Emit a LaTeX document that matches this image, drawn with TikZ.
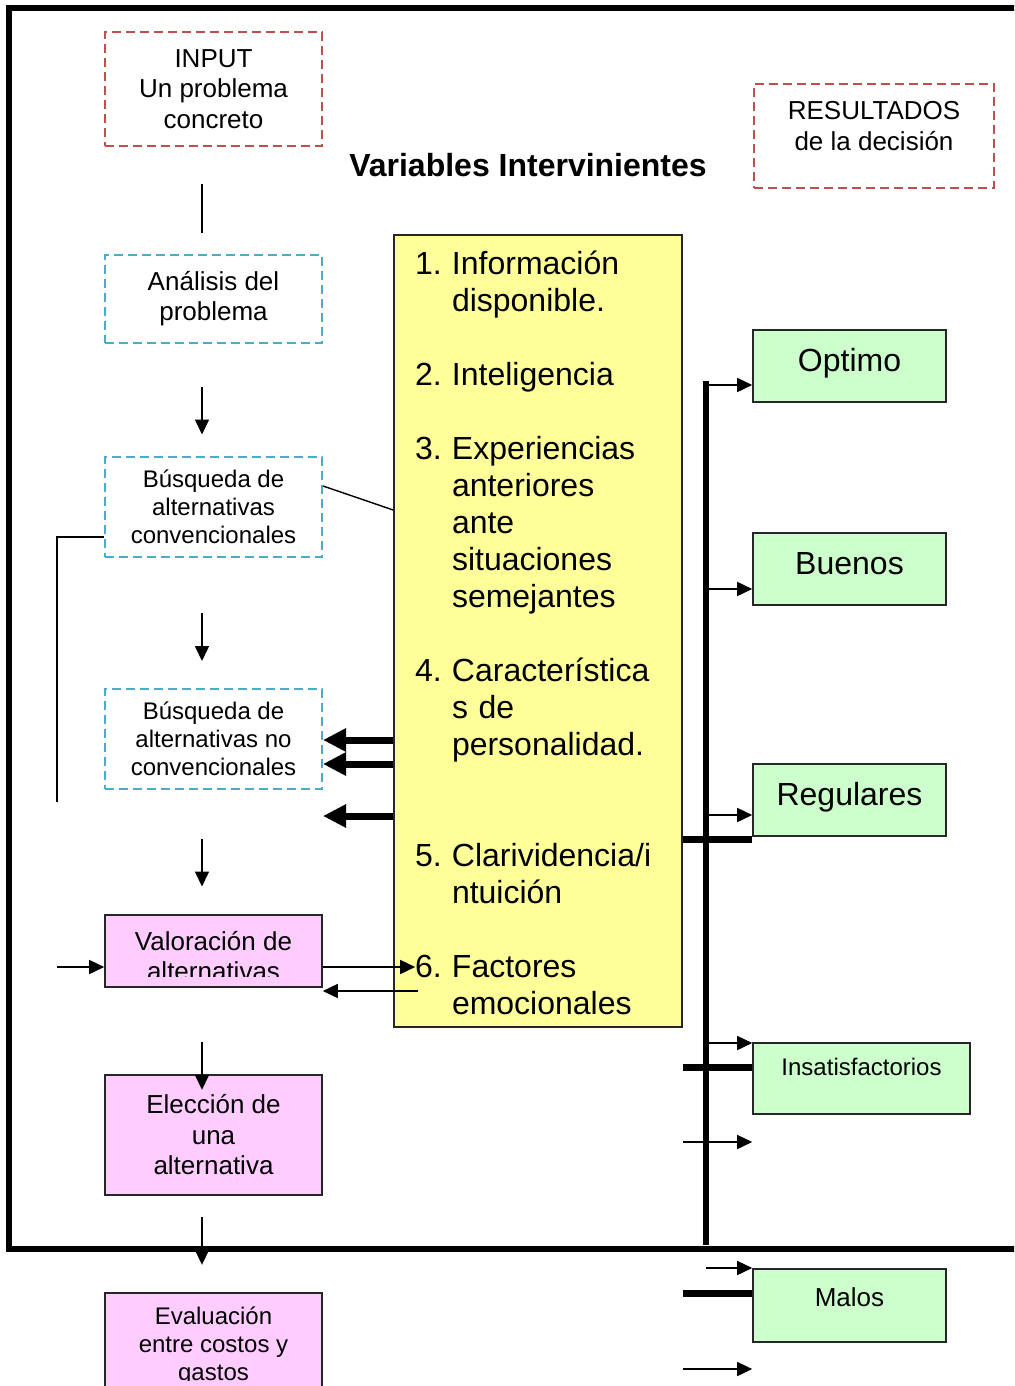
\documentclass[tikz,border=0pt]{standalone}
\usepackage{fontspec}
\setmainfont{Liberation Sans}
\usepackage{tikz}
\usepackage{xcolor}
\usetikzlibrary{arrows.meta,calc}
\definecolor{DashRed}{HTML}{C0504D}
\definecolor{DashCyan}{HTML}{4BACC6}
\definecolor{VarYellow}{HTML}{FFFF99}
\definecolor{ResGreen}{HTML}{CCFFCC}
\definecolor{StepPink}{HTML}{FFCCFF}
\newcommand{\bigtxt}{\fontsize{13}{15.25}\selectfont}
\newcommand{\smalltxt}{\fontsize{12}{13.9}\selectfont}
\newcommand{\listtxt}{\fontsize{16}{18.5}\selectfont}

\begin{document}
\begin{tikzpicture}[x=0.5pt,y=-0.5pt,
  redbox/.style={draw=DashRed,line width=1pt,dash pattern=on 4.5pt off 2.5pt,inner sep=0pt,align=center,font=\bigtxt},
  cyanbox/.style={draw=DashCyan,line width=1pt,dash pattern=on 4.5pt off 2.5pt,minimum width=108.5pt,inner sep=0pt,align=center},
  pinkbox/.style={draw=black!85,fill=StepPink,line width=0.8pt,minimum width=108.5pt,inner sep=0pt,align=center},
  resbox/.style={draw=black!85,fill=ResGreen,line width=0.8pt,minimum width=96.5pt,inner sep=0pt,text height=20.7pt,text depth=15.3pt,font=\listtxt},
  varbox/.style={draw=black!85,fill=VarYellow,line width=0.8pt,minimum width=144pt,minimum height=396pt,inner sep=0pt},
  varlist/.style={text width=123pt,inner sep=0pt,align=left,font=\listtxt},
  frame/.style={line width=2.8pt,line join=miter},
  plainline/.style={line width=0.7pt},
  arrow/.style={-{Triangle[length=7.5pt,width=7pt]},line width=0.8pt},
  fatarrow/.style={-{Triangle[length=11.5pt,width=11pt]},line width=3.5pt},
  bus/.style={line width=2.8pt},
  bar/.style={line width=3.5pt}
]
\clip (0,0) rectangle (1014,1386);
\draw[frame] (1030,8) -| (9,1249) -- (1030,1249);

\node[redbox,minimum width=108.5pt,minimum height=57pt] (input) at (213.5,89) {INPUT\\Un problema\\concreto};
\node[redbox,minimum width=120pt,minimum height=52pt] (res) at (874,136) {};
\node[anchor=north,inner sep=0pt,align=center,font=\bigtxt] (restxt) at (874,101) {RESULTADOS\\de la decisión};
\node[font=\bfseries\listtxt] (title) at (528,165) {Variables Intervinientes};

\node[cyanbox,minimum height=44pt,font=\bigtxt] (analisis) at (213.5,298.5) {Análisis del\\problema};
\node[cyanbox,minimum height=50pt,font=\smalltxt] (busq1) at (213.5,507) {Búsqueda de\\alternativas\\convencionales};
\node[cyanbox,minimum height=50pt,font=\smalltxt] (busq2) at (213.5,738.5) {Búsqueda de\\alternativas no\\convencionales};

\node[pinkbox,minimum height=36pt] (valor) at (213.5,951) {};
\begin{scope}
\clip (105,915) rectangle (322,976);
\node[align=center,inner sep=0pt,font=\bigtxt] (valortxt) at (213.5,956) {Valoración de\\alternativas};
\end{scope}
\node[pinkbox,minimum height=60pt,font=\bigtxt] (eleccion) at (213.5,1135) {Elección de\\una\\alternativa};
\node[pinkbox,minimum height=53pt] (evalua) at (213.5,1346) {};
\begin{scope}
\clip (105,1293) rectangle (322,1380);
\node[align=center,inner sep=0pt,font=\smalltxt] (evaltxt) at (213.5,1346) {Evaluación\\entre costos y\\gastos};
\end{scope}

\node[varbox] (vars) at (538,631) {};
\node[varlist] (varstxt) at (538,637) {\begin{tabular}{@{}p{18.5pt}@{}l@{}}
1. & Información\\
   & disponible.\\
   & \\
2. & Inteligencia\\
   & \\
3. & Experiencias\\
   & anteriores\\
   & ante\\
   & situaciones\\
   & semejantes\\
   & \\
4. & Característica\\
   & s de\\
   & personalidad.\\
   & \\
   & \\
5. & Clarividencia/i\\
   & ntuición\\
   & \\
6. & Factores\\
   & emocionales
\end{tabular}};

\node[resbox] (optimo) at (849.5,366) {Optimo};
\node[resbox] (buenos) at (849.5,569) {Buenos};
\node[resbox] (regulares) at (849.5,800) {Regulares};
\node[resbox,minimum width=108.5pt,text height=16.3pt,text depth=19.2pt,font=\smalltxt] (insat) at (861.5,1078.5) {Insatisfactorios};
\node[resbox,minimum height=36.5pt,text height=18.7pt,text depth=17.8pt,font=\bigtxt] (malos) at (849.5,1305.5) {Malos};

\coordinate (col) at (202,0);
\coordinate (loopend) at (57,802);
\coordinate (loopin) at (57,967);
\coordinate (fwd) at (0,967);
\coordinate (back) at (0,991);
\coordinate (bustop) at (706,381);
\coordinate (busend) at (706,1245);

\draw[plainline] ($(col |- input.south)+(0,37)$) -- ++(0,49);
\foreach \n/\d in {analisis/43,busq1/55,busq2/49,valor/54,eleccion/21}
  \draw[arrow] ($(col |- \n.south)+(0,\d)$) -- ++(0,48);

\draw[plainline] (busq1.east |- 0,486) -- (vars.west |- 0,510);
\draw[plainline] (busq1.west |- 0,537) -| (loopend);
\draw[arrow] (loopin) -- (valor.west |- loopin);
\draw[arrow] (valor.east |- fwd) -- ($(vars.west |- fwd)+(22,0)$);
\draw[arrow] ($(vars.west |- back)+(25,0)$) -- (valor.east |- back);
\foreach \y in {740,764,816}
  \draw[fatarrow] (vars.west |- 0,\y) -- (busq2.east |- 0,\y);

\foreach \n/\y in {regulares/839,insat/1067,malos/1293}
  \draw[bar] (vars.east |- 0,\y) -- (\n.west |- 0,\y);
\draw[bus] (bustop) -- (busend);
\foreach \n/\y in {optimo/385,buenos/589,regulares/815,insat/1043,malos/1268}
  \draw[arrow] (bustop |- 0,\y) -- (\n.west |- 0,\y);
\foreach \y in {1142,1369}
  \draw[arrow] (vars.east |- 0,\y) -- (malos.west |- 0,\y);
\end{tikzpicture}
\end{document}
